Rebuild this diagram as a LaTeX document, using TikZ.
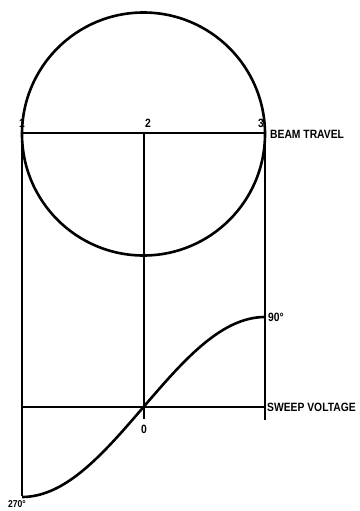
\documentclass[tikz,border=0pt]{standalone}
\usepackage{fontspec}
\newfontfamily\figfont[FakeStretch=0.86]{Liberation Sans}
\usepackage{tikz}
\usetikzlibrary{
  calc,%
  positioning
}
\tikzset{>=latex}
\tikzset{font=\figfont\bfseries\fontsize{12}{13}\selectfont}
\tikzset{guide/.style={line width=1.6pt},
  trace/.style={line width=2.6pt},
  lbl/.style={inner sep=1pt}}

\begin{document}
\begin{tikzpicture}[x=1pt,y=-1pt]
  \useasboundingbox (0,0) rectangle (359,511);
  % beam travel diameter
  \coordinate (p1) at (22,133);
  \coordinate (p2) at (144,133);
  \coordinate (p3) at (265,133);
  % sweep voltage axis
  \coordinate (s1) at (22,407);
  \coordinate (s0) at (144,407);
  \coordinate (s3) at (265,407);
  \coordinate (lo) at (22,496);
  \coordinate (m0) at (144,419);
  \coordinate (hi) at (265,420);
  \draw[trace] (143.5,134) circle [radius=121.5pt];
  \draw[guide] (p1) -- (p3);
  \draw[guide] (p1) -- (lo);
  \draw[guide] (p2) -- (m0);
  \draw[guide] (p3) -- (hi);
  \draw[guide] (s1) -- (s3);
  \draw[trace, domain=-1:1, variable=\t, smooth, samples=60]
    plot ({143.5+121.5*\t}, {407-90*sin(90*\t)});
  \foreach \n/\x in {1/22,2/148,3/261}
    \node[lbl, anchor=south] (n\n) at (\x,129) {\n};
  \node[lbl, anchor=west] (beam) at (269,134) {BEAM TRAVEL};
  \node[lbl, anchor=west] (sweep) at (266,407) {SWEEP VOLTAGE};
  \node[lbl, anchor=north] (zero) at (144,424) {0};
  \node[lbl, anchor=west] (ninety) at (267,317) {90\textdegree};
  \node[lbl, anchor=north, font=\figfont\bfseries\fontsize{10}{11}\selectfont]
    (twoseventy) at (17,499) {270\textdegree};
\end{tikzpicture}
\end{document}
